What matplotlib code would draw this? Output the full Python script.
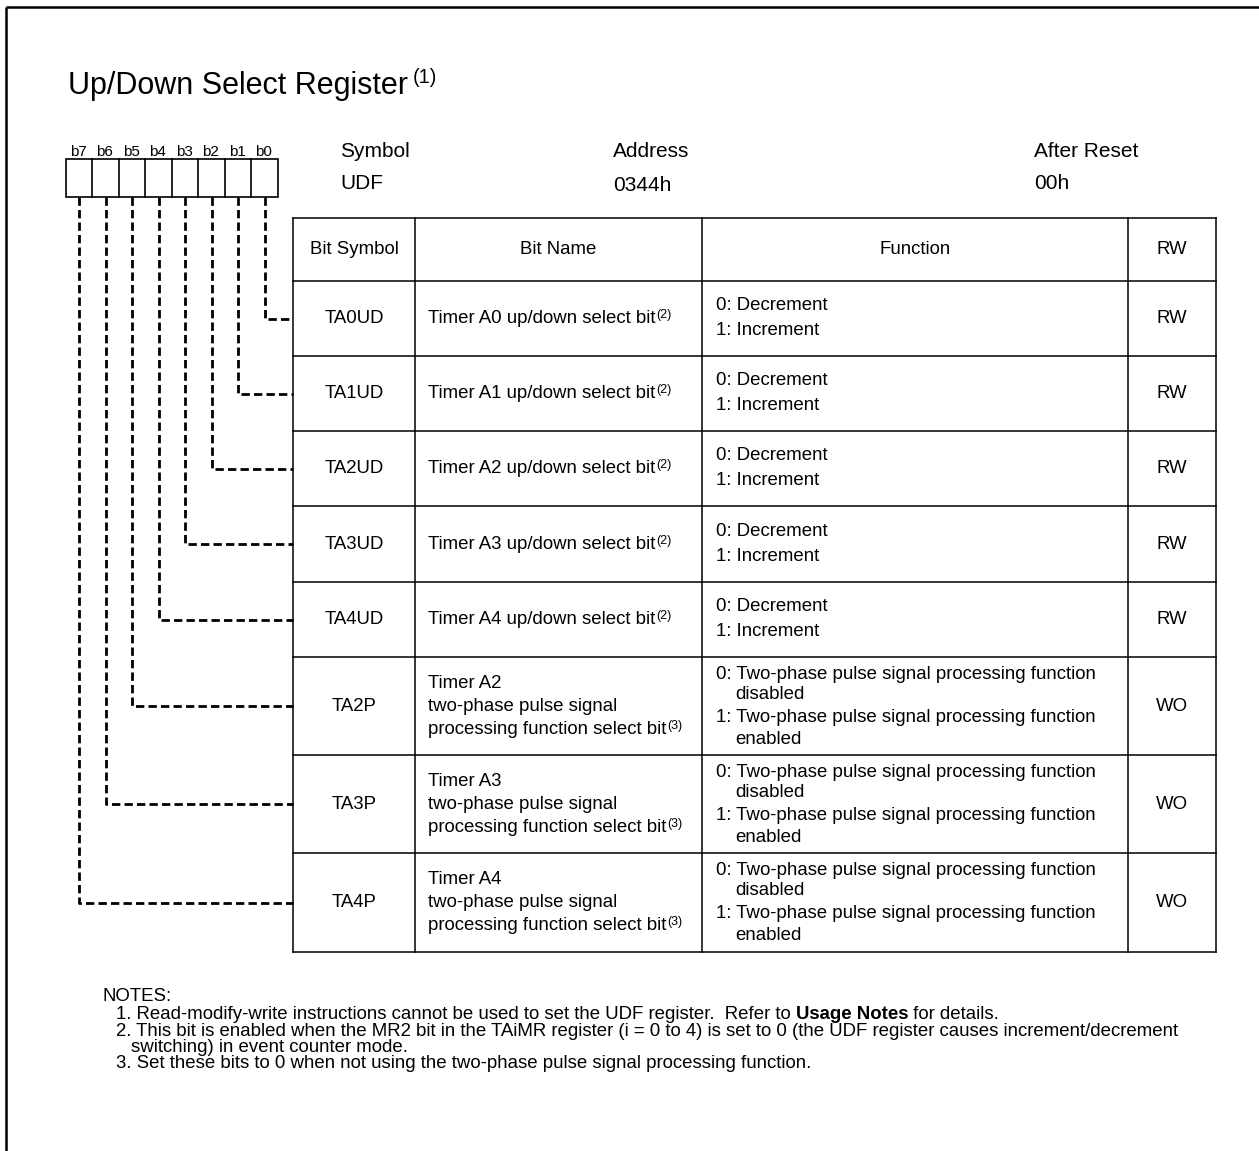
import matplotlib
matplotlib.use('Agg')
import matplotlib.pyplot as plt

W, H = 1259, 1151
FONT = 'Liberation Sans'

# ---------------- data ----------------
title = "Up/Down Select Register"
title_note = "(1)"
bit_labels = ["b7", "b6", "b5", "b4", "b3", "b2", "b1", "b0"]
info_labels = ["Symbol", "Address", "After Reset"]
info_values = ["UDF", "0344h", "00h"]
header_cols = ["Bit Symbol", "Bit Name", "Function", "RW"]
bit_symbols = ["TA0UD", "TA1UD", "TA2UD", "TA3UD", "TA4UD", "TA2P", "TA3P", "TA4P"]
bit_names = [
    ["Timer A0 up/down select bit"],
    ["Timer A1 up/down select bit"],
    ["Timer A2 up/down select bit"],
    ["Timer A3 up/down select bit"],
    ["Timer A4 up/down select bit"],
    ["Timer A2", "two-phase pulse signal", "processing function select bit"],
    ["Timer A3", "two-phase pulse signal", "processing function select bit"],
    ["Timer A4", "two-phase pulse signal", "processing function select bit"],
]
name_notes = ["(2)", "(2)", "(2)", "(2)", "(2)", "(3)", "(3)", "(3)"]
func_simple = ["0: Decrement", "1: Increment"]
func_twophase = ["0: Two-phase pulse signal processing function", "disabled",
                 "1: Two-phase pulse signal processing function", "enabled"]
functions = [func_simple] * 5 + [func_twophase] * 3
rw = ["RW", "RW", "RW", "RW", "RW", "WO", "WO", "WO"]
notes_head = "NOTES:"
note1_parts = [("1. Read-modify-write instructions cannot be used to set the UDF register.  Refer to ", 'normal'),
               ("Usage Notes", 'bold'), (" for details.", 'normal')]
note2_lines = ["2. This bit is enabled when the MR2 bit in the TAiMR register (i = 0 to 4) is set to 0 (the UDF register causes increment/decrement",
               "switching) in event counter mode."]
note3 = "3. Set these bits to 0 when not using the two-phase pulse signal processing function."

# ---------------- layout ----------------
col_x = [293, 415, 702, 1128, 1216]
row_y = [218, 281, 356, 431, 506, 582, 657, 755, 853, 952]
box_left, box_top, box_bot, cell_w = 66, 159, 197, 26.5
TS = 13.4   # table text size
NS = 13.4   # notes text size

fig = plt.figure(figsize=(W / 100, H / 100), dpi=100)
ax = fig.add_axes([0, 0, 1, 1])
ax.set_xlim(0, W)
ax.set_ylim(H, 0)
ax.axis('off')
renderer = fig.canvas.get_renderer()
inv = ax.transData.inverted()


def txt(x, y, s, size, ha='left', va='center', weight='normal'):
    return ax.text(x, y, s, fontsize=size, ha=ha, va=va, fontfamily=FONT,
                   fontweight=weight, color='black')


def right_top(t):
    bb = t.get_window_extent(renderer)
    (x0, y0), (x1, y1) = inv.transform([(bb.x0, bb.y0), (bb.x1, bb.y1)])
    return x1, min(y0, y1), max(y0, y1)


def sup(t, s, size, gap=1, raise_=0):
    x1, ytop, ybot = right_top(t)
    return txt(x1 + gap, ytop + raise_, s, size, va='top')


# outer frame (top and left visible)
ax.plot([6, W], [7, 7], color='black', lw=1.8, solid_capstyle='butt')
ax.plot([6, 6], [7, H], color='black', lw=1.8, solid_capstyle='butt')

# title
t = txt(68, 86, title, 22)
sup(t, title_note, 14.5, gap=5, raise_=-3)

# bit boxes
n = len(bit_labels)
ax.add_patch(plt.Rectangle((box_left, box_top), cell_w * n, box_bot - box_top,
                           fill=False, lw=1.2, edgecolor='black'))
for j in range(1, n):
    xx = box_left + cell_w * j
    ax.plot([xx, xx], [box_top, box_bot], color='black', lw=1.2)
for j, lab in enumerate(bit_labels):
    cx = box_left + cell_w * (j + 0.5)
    txt(cx - 1, 156, lab, 11, ha='center', va='baseline')

# info labels
info_x = [340, 613, 1034]
for x, lab, val, vy in zip(info_x, info_labels, info_values, [183, 185, 183]):
    txt(x, 151, lab, 15)
    txt(x, vy, val, 15)

# table grid
for y in row_y:
    ax.plot([col_x[0], col_x[-1]], [y, y], color='black', lw=1.1)
for x in col_x:
    ax.plot([x, x], [row_y[0], row_y[-1]], color='black', lw=1.1)

# header
hy = (row_y[0] + row_y[1]) / 2
for i, h in enumerate(header_cols):
    txt((col_x[i] + col_x[i + 1]) / 2, hy, h, TS, ha='center')

# rows
for r in range(len(bit_symbols)):
    top, bot = row_y[r + 1], row_y[r + 2]
    cy = (top + bot) / 2
    txt((col_x[0] + col_x[1]) / 2, cy, bit_symbols[r], TS, ha='center')
    names = bit_names[r]
    if len(names) == 1:
        offs = [0]
    else:
        offs = [-23, 0, 23]
    last = None
    for nm, o in zip(names, offs):
        last = txt(428, cy + o, nm, TS)
    sup(last, name_notes[r], 9, gap=1, raise_=-1)
    f = functions[r]
    if len(f) == 2:
        txt(716, cy - 13, f[0], TS)
        txt(716, cy + 12, f[1], TS)
    else:
        foffs = [-32, -12, 11, 33]
        fxs = [716, 735, 716, 735]
        for s, o, fx in zip(f, foffs, fxs):
            txt(fx, cy + o, s, TS)
    txt((col_x[3] + col_x[4]) / 2, cy, rw[r], TS, ha='center')

# dashed leader lines
for j in range(n):
    bitnum = n - 1 - j
    cx = box_left + cell_w * (j + 0.5)
    cy = (row_y[bitnum + 1] + row_y[bitnum + 2]) / 2
    ax.plot([cx, cx, col_x[0]], [box_bot, cy, cy], color='black', lw=2.0,
            linestyle=(0, (3.0, 1.5)), dash_capstyle='butt')

# notes
txt(103, 996, notes_head, NS)
x = 116
for s, w in note1_parts:
    tt = txt(x, 1014, s, NS, weight=w)
    x, _, _ = right_top(tt)
txt(116, 1031, note2_lines[0], NS)
txt(131, 1047, note2_lines[1], NS)
txt(116, 1064, note3, NS)

fig.savefig('out.png', dpi=100, facecolor='white')
